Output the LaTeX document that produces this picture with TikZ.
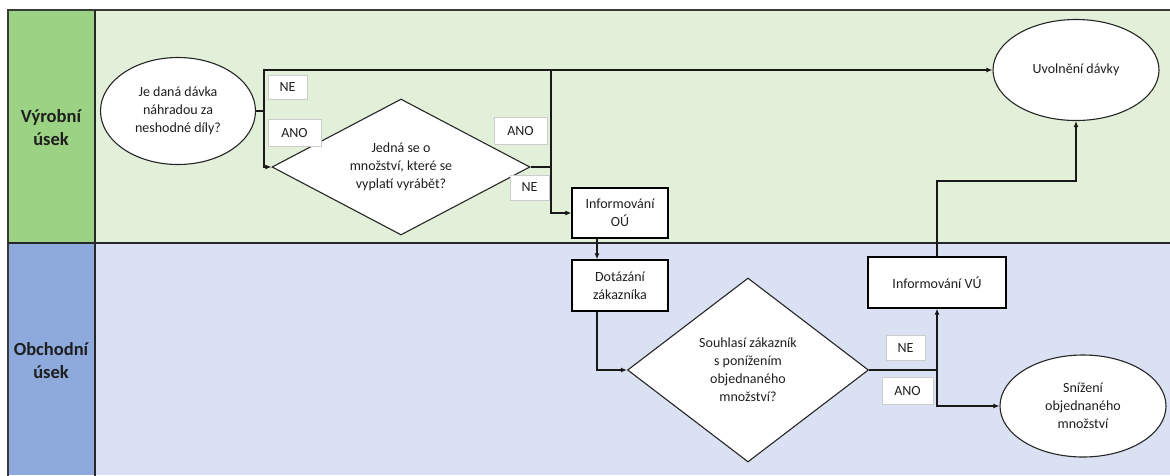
\documentclass[tikz,border=0pt]{standalone}
\usepackage{fontspec}
\setmainfont{Carlito}
\usetikzlibrary{shapes.geometric,arrows.meta}

\definecolor{headgreen}{HTML}{9CD283}
\definecolor{lanegreen}{HTML}{E2F0D9}
\definecolor{headblue}{HTML}{8EA9DB}
\definecolor{laneblue}{HTML}{D9E1F2}
\definecolor{txt}{HTML}{1F1F1F}
\definecolor{frame}{HTML}{3A3A3A}

\tikzset{
  base/.style={text=txt, font=\fontsize{14}{18}\selectfont, align=center, inner sep=0pt},
  stepbox/.style={base, draw=black, line width=1.3pt, fill=white, rectangle},
  term/.style={base, draw=black!85, line width=1.1pt, fill=white, ellipse},
  decide/.style={base, draw=black!85, line width=1.1pt, fill=white, diamond},
  tag/.style={base, draw=black!20, line width=0.9pt, fill=white, rectangle},
  lanetitle/.style={text=txt, font=\fontsize{18.5}{23}\selectfont\bfseries, align=center},
  flow/.style={draw=black!90, line width=1.2pt},
  arr/.style={flow, -{Latex[length=6pt,width=5pt]}},
}

\begin{document}
\begin{tikzpicture}[x=1pt,y=-1pt]
\useasboundingbox (0,0) rectangle (1170,475);

% swimlanes
\fill[lanegreen] (95,10) rectangle (1170,243);
\fill[headgreen] (8,10) rectangle (95,243);
\fill[laneblue] (95,243) rectangle (1170,475);
\fill[headblue] (8,243) rectangle (95,475);
\draw[frame, line width=1.8pt] (8,480) -- (8,10) -- (1172,10);
\draw[black!85, line width=1.4pt] (95,10) -- (95,480);
\draw[black!85, line width=1.4pt] (8,243) -- (1172,243);

\node[lanetitle] (laneA) at (51,128) {Výrobní\\úsek};
\node[lanetitle] (laneB) at (51,361) {Obchodní\\úsek};

% shapes
\node[term, minimum width=155pt, minimum height=107pt] (e1) at (178,111)
  {Je daná dávka\\náhradou za\\neshodné díly?};
\node[decide, aspect=1.9, minimum width=258pt, minimum height=136pt] (d2) at (401,167)
  {Jedná se o\\množství, které se\\vyplatí vyrábět?};
\node[stepbox, minimum width=96pt, minimum height=50pt] (b1) at (620,213)
  {Informování\\OÚ};
\node[stepbox, minimum width=96pt, minimum height=51pt] (b2) at (620,285.5)
  {Dotázání\\zákazníka};
\node[decide, aspect=1.31, minimum width=241pt, minimum height=184pt] (d3) at (748,370)
  {Souhlasí zákazník\\s ponížením\\objednaného\\množství?};
\node[stepbox, minimum width=138pt, minimum height=51pt] (b3) at (937,282.5)
  {Informování VÚ};
\node[term, minimum width=166pt, minimum height=101pt] (e4) at (1076,70)
  {Uvolnění dávky};
\node[term, minimum width=166pt, minimum height=102pt] (e5) at (1083,406)
  {Snížení\\objednaného\\množství};

% branch points
\coordinate (j1) at (264,111);
\coordinate (j2) at (551,167);
\coordinate (j3) at (937,370);
\coordinate (j4) at (1076,181);

% connectors
\draw[flow] (e1.east) -- (j1);
\draw[arr] (j1) |- (d2.west);
\draw[arr] (j1) |- (e4.west);
\draw[flow] (d2.east) -- (j2);
\draw[flow] (j2) -- (j2 |- e4.west);
\draw[arr] (j2) |- (b1.west);
\draw[arr] ([xshift=-23pt]b1.south) -- ([xshift=-23pt]b2.north);
\draw[arr] ([xshift=-23pt]b2.south) |- (d3.west);
\draw[flow] (d3.east) -- (j3);
\draw[arr] (j3) -- (b3.south);
\draw[arr] (j3) |- (e5.west);
\draw[arr] (b3.north) |- (j4) -- (e4.south);

% branch labels
\node[tag, minimum width=39pt, minimum height=24pt] (t1) at (287.5,87) {NE};
\node[tag, minimum width=53pt, minimum height=27pt] (t2) at (294.5,132.5) {ANO};
\node[tag, minimum width=53pt, minimum height=27pt] (t3) at (520.5,130.5) {ANO};
\node[tag, minimum width=39pt, minimum height=25pt] (t4) at (529.5,187.5) {NE};
\node[tag, minimum width=39pt, minimum height=25pt] (t5) at (905.5,347.5) {NE};
\node[tag, minimum width=51pt, minimum height=27pt] (t6) at (907.5,390.5) {ANO};
\end{tikzpicture}
\end{document}
